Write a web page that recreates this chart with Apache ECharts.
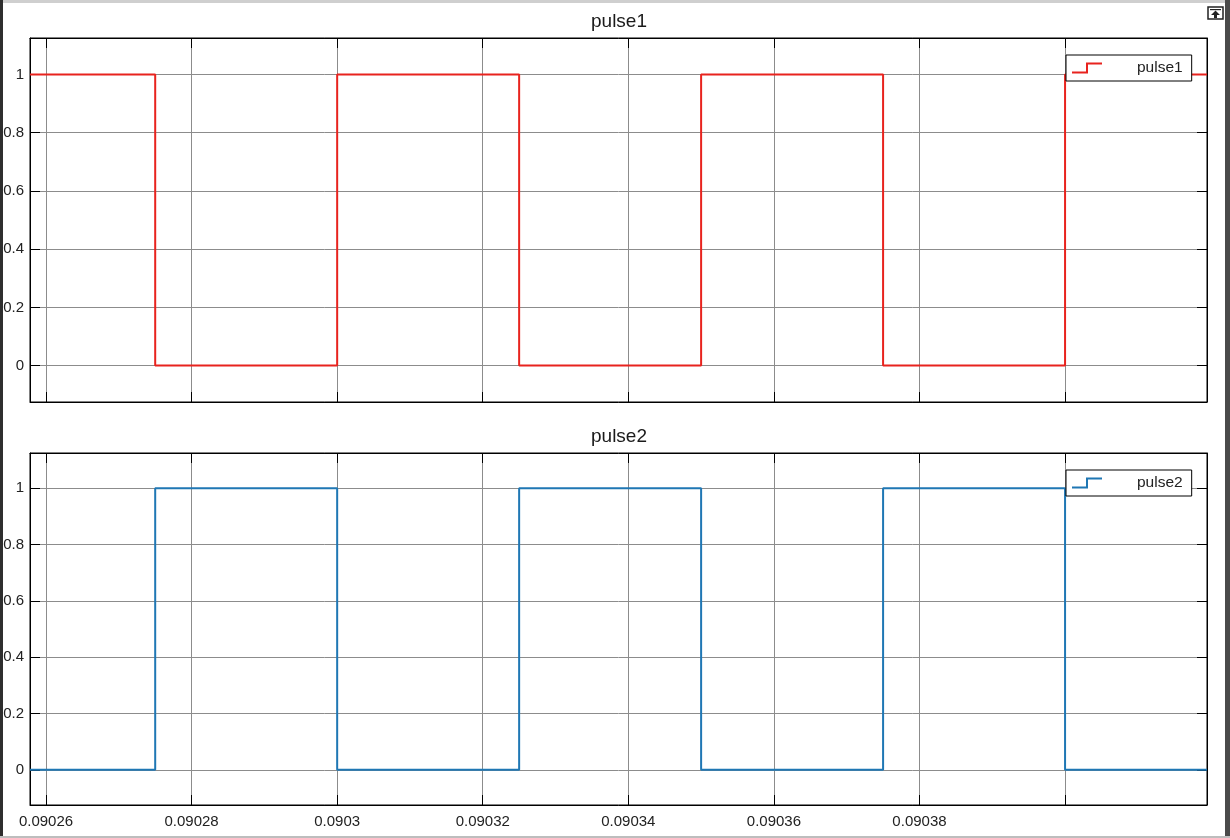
<!DOCTYPE html>
<html>
<head>
<meta charset="utf-8">
<style>html,body{margin:0;padding:0;background:#fff;}#c{width:1230px;height:838px;}</style>
<script src="https://cdn.jsdelivr.net/npm/echarts@6/dist/echarts.min.js"></script>
</head>
<body>
<div id="c"></div>
<script>
// ---- data ----
const pulseTimes   = [0.0902578, 0.090275, 0.0903, 0.090325, 0.09035, 0.090375, 0.0904, 0.0904195];
const pulse1Values = [1, 0, 1, 0, 1, 0, 1, 1];
const pulse2Values = [0, 1, 0, 1, 0, 1, 0, 0];
const xTicks  = [0.09026, 0.09028, 0.0903, 0.09032, 0.09034, 0.09036, 0.09038, 0.0904];
const xLabels = [0.09026, 0.09028, 0.0903, 0.09032, 0.09034, 0.09036, 0.09038];
const yTicks  = [0, 0.2, 0.4, 0.6, 0.8, 1];
const titles  = ['pulse1', 'pulse2'];
const colors  = ['#e8231e', '#1f77b4'];

const xMin = pulseTimes[0], xMax = pulseTimes[pulseTimes.length - 1];
const yMin = -0.125, yMax = 1.125;
const font = 'Liberation Sans, Arial, Helvetica, sans-serif';

const grids = [
  {left: 30, right: 23, top: 38, height: 364},
  {left: 30, right: 23, top: 453, height: 352}
];

const xAxes = [], yAxes = [];
grids.forEach((g, i) => {
  xAxes.push({
    type: 'value', gridIndex: i, min: xMin, max: xMax, position: 'bottom',
    axisLine: {show: true, onZero: false, lineStyle: {color: '#000', width: 1}},
    axisTick: {show: true, inside: true, length: 10, customValues: xTicks, lineStyle: {color: '#000'}},
    axisLabel: {show: i === 1, customValues: xLabels, formatter: v => String(v),
      margin: 9, color: '#222', fontSize: 15, fontFamily: font},
    splitLine: {show: true, lineStyle: {color: '#8c8c8c', width: 1}}
  });
  xAxes.push({
    type: 'value', gridIndex: i, min: xMin, max: xMax, position: 'top',
    axisLine: {show: true, onZero: false, lineStyle: {color: '#000', width: 1}},
    axisTick: {show: true, inside: true, length: 10, customValues: xTicks, lineStyle: {color: '#000'}},
    axisLabel: {show: false}, splitLine: {show: false}
  });
  yAxes.push({
    type: 'value', gridIndex: i, min: yMin, max: yMax, position: 'left',
    axisLine: {show: true, onZero: false, lineStyle: {color: '#000', width: 1}},
    axisTick: {show: true, inside: true, length: 10, customValues: yTicks, lineStyle: {color: '#000'}},
    axisLabel: {show: true, customValues: yTicks, formatter: v => String(v),
      margin: 6, color: '#222', fontSize: 15, fontFamily: font},
    splitLine: {show: true, lineStyle: {color: '#8c8c8c', width: 1}}
  });
  yAxes.push({
    type: 'value', gridIndex: i, min: yMin, max: yMax, position: 'right',
    axisLine: {show: true, onZero: false, lineStyle: {color: '#000', width: 1}},
    axisTick: {show: true, inside: true, length: 10, customValues: yTicks, lineStyle: {color: '#000'}},
    axisLabel: {show: false}, splitLine: {show: false}
  });
});

const seriesVals = [pulse1Values, pulse2Values];
const series = seriesVals.map((vals, i) => ({
  name: titles[i], type: 'line', step: 'end',
  xAxisIndex: i * 2, yAxisIndex: i * 2,
  data: pulseTimes.map((t, k) => [t, vals[k]]),
  showSymbol: false, symbol: 'none', animation: false,
  lineStyle: {color: colors[i], width: 2}, itemStyle: {color: colors[i]}
}));

const stepIconUp = 'path://M0,9 L14,9 L14,0 L30,0 L30,2 L16,2 L16,11 L0,11 Z';

const legends = titles.map((t, i) => ({
  data: [{name: t, icon: stepIconUp}],
  left: 1066, top: i === 0 ? 55 : 470,
  orient: 'vertical',
  padding: [5, 9, 5, 6],
  itemWidth: 30, itemHeight: 11,
  backgroundColor: '#fff', borderColor: '#000', borderWidth: 1, borderRadius: 0,
  itemStyle: {borderWidth: 0},
  textStyle: {fontSize: 15.5, color: '#222', fontFamily: font, padding: [0, 0, 0, 30]},
  selectedMode: false
}));

const option = {
  backgroundColor: '#fff',
  animation: false,
  title: titles.map((t, i) => ({
    text: t, left: 619, top: i === 0 ? 12 : 427, textAlign: 'center', padding: 0,
    textStyle: {fontSize: 19, fontWeight: 'normal', color: '#1a1a1a', fontFamily: font}
  })),
  legend: legends,
  grid: grids.map(g => Object.assign({show: true, borderColor: '#000', borderWidth: 1, backgroundColor: '#fff'}, g)),
  xAxis: xAxes,
  yAxis: yAxes,
  series: series,
  graphic: [
    {type: 'rect', z: 100, shape: {x: 0, y: 0, width: 1230, height: 3}, style: {fill: '#cfcfcf'}},
    {type: 'rect', z: 100, shape: {x: 0, y: 0, width: 3, height: 838}, style: {fill: '#2e2e2e'}},
    {type: 'rect', z: 100, shape: {x: 1225, y: 0, width: 5, height: 838}, style: {fill: '#4a4a4a'}},
    {type: 'rect', z: 100, shape: {x: 0, y: 836, width: 1230, height: 2}, style: {fill: '#bdbdbd'}},
    {type: 'rect', z: 100, shape: {x: 1208, y: 7, width: 15, height: 12}, style: {fill: '#fff', stroke: '#222', lineWidth: 1.5}},
    {type: 'polygon', z: 101, shape: {points: [[1215.5, 10.5], [1211, 15], [1214, 15], [1214, 18], [1217, 18], [1217, 15], [1220, 15]]}, style: {fill: '#222'}},
    {type: 'rect', z: 101, shape: {x: 1210, y: 9, width: 11, height: 1.2}, style: {fill: '#222'}}
  ]
};

const chart = echarts.init(document.getElementById('c'), null, {renderer: 'canvas'});
chart.setOption(option);
</script>
</body>
</html>
